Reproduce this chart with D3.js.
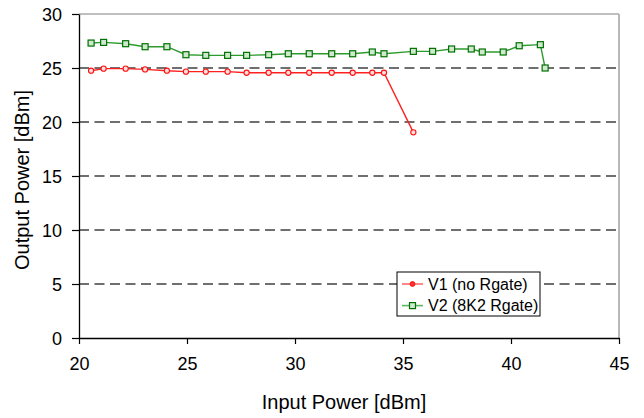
<!DOCTYPE html>
<html>
<head>
<meta charset="utf-8">
<script src="https://cdn.jsdelivr.net/npm/d3@7"></script>
<style>
  body { margin: 0; background: #fff; }
  svg { font-family: Arial, "Liberation Sans", sans-serif; }
</style>
</head>
<body>
<svg id="chart" width="644" height="418"></svg>
<script>
// V1 (no Rgate)
const v1In  = [20.56, 21.14, 22.16, 23.06, 24.07, 24.95, 25.87, 26.88, 27.76, 28.78, 29.69, 30.66, 31.70, 32.67, 33.58, 34.12, 35.48];
const v1Out = [24.75, 24.94, 24.94, 24.87, 24.75, 24.66, 24.66, 24.66, 24.56, 24.56, 24.56, 24.56, 24.56, 24.56, 24.56, 24.56, 19.04];

// V2 (8K2 Rgate)
const v2In  = [20.56, 21.14, 22.16, 23.06, 24.07, 24.95, 25.87, 26.88, 27.76, 28.78, 29.69, 30.66, 31.70,
               32.67, 33.58, 34.12, 35.48, 36.37, 37.25, 38.16, 38.67, 39.64, 40.38, 41.36, 41.58];
const v2Out = [27.31, 27.37, 27.25, 26.97, 26.97, 26.23, 26.17, 26.17, 26.17, 26.23, 26.32, 26.32, 26.32,
               26.32, 26.48, 26.32, 26.54, 26.54, 26.76, 26.76, 26.48, 26.48, 27.06, 27.16, 25.00];

const xTicks = [20, 25, 30, 35, 40, 45];
const yTicks = [0, 5, 10, 15, 20, 25, 30];
const legendLabels = ["V1 (no Rgate)", "V2 (8K2 Rgate)"];

const svg = d3.select("#chart");
const margin = { top: 14, right: 25, bottom: 80, left: 79 };
const width = 644 - margin.left - margin.right;
const height = 418 - margin.top - margin.bottom;

const g = svg.append("g").attr("transform", `translate(${margin.left},${margin.top})`);

const x = d3.scaleLinear().domain([20, 45]).range([0, width]);
const y = d3.scaleLinear().domain([0, 30]).range([height, 0]);

// dashed grid lines
g.selectAll(".grid")
  .data(yTicks.filter(t => t > 0 && t < 30))
  .enter().append("line")
  .attr("x1", 0).attr("x2", width)
  .attr("y1", d => y(d)).attr("y2", d => y(d))
  .attr("stroke", "#404040")
  .attr("stroke-width", 1.3)
  .attr("stroke-dasharray", "10,5.5");

// frame top / right
g.append("line").attr("x1", 0).attr("x2", width).attr("y1", 0).attr("y2", 0)
  .attr("stroke", "#808080").attr("stroke-width", 1.2);
g.append("line").attr("x1", width).attr("x2", width).attr("y1", 0).attr("y2", height)
  .attr("stroke", "#b8b8b8").attr("stroke-width", 2);

// axes
const xAxis = g.append("g")
  .attr("transform", `translate(0,${height})`)
  .call(d3.axisBottom(x).tickValues(xTicks).tickSize(6).tickPadding(13).tickSizeOuter(0));
const yAxis = g.append("g")
  .call(d3.axisLeft(y).tickValues(yTicks).tickSize(7).tickPadding(10).tickSizeOuter(0));

[xAxis, yAxis].forEach(a => {
  a.select(".domain").attr("stroke", "#000").attr("stroke-width", 1.3);
  a.selectAll(".tick line").attr("stroke", "#000").attr("stroke-width", 1.2);
  a.selectAll(".tick text").attr("fill", "#000").style("font-size", "18px")
    .style("font-family", "Arial, 'Liberation Sans', sans-serif");
});
yAxis.selectAll(".tick text").attr("dy", "0.35em");

// lines
const line = d3.line().x(d => x(d[0])).y(d => y(d[1]));
const v1 = v1In.map((d, i) => [d, v1Out[i]]);
const v2 = v2In.map((d, i) => [d, v2Out[i]]);

g.append("path").datum(v2)
  .attr("fill", "none").attr("stroke", "#2e9a2e").attr("stroke-width", 1.4)
  .attr("d", line);
g.append("path").datum(v1)
  .attr("fill", "none").attr("stroke", "#ff2020").attr("stroke-width", 1.4)
  .attr("d", line);

g.selectAll(".sq").data(v2).enter().append("rect")
  .attr("x", d => x(d[0]) - 3).attr("y", d => y(d[1]) - 3)
  .attr("width", 6).attr("height", 6)
  .attr("fill", "#cfe9cf").attr("stroke", "#007000").attr("stroke-width", 1.2);
g.selectAll(".ci").data(v1).enter().append("circle")
  .attr("cx", d => x(d[0])).attr("cy", d => y(d[1])).attr("r", 2.6)
  .attr("fill", "#ffdede").attr("stroke", "#ff1010").attr("stroke-width", 1.1);

// axis titles
svg.append("text")
  .attr("x", margin.left + width / 2 - 5).attr("y", 409)
  .attr("text-anchor", "middle").style("font-size", "20px")
  .text("Input Power [dBm]");
svg.append("text")
  .attr("transform", `translate(29,${margin.top + height / 2 + 4}) rotate(-90)`)
  .attr("text-anchor", "middle").style("font-size", "20px")
  .text("Output Power [dBm]");

// legend
const lg = svg.append("g").attr("transform", "translate(397,272)");
lg.append("rect").attr("width", 143).attr("height", 44)
  .attr("fill", "#fff").attr("stroke", "#000").attr("stroke-width", 1);
legendLabels.forEach((lab, i) => {
  const cy = 12 + i * 21.6;
  const col = i === 0 ? "#ff6a6a" : "#5cb85c";
  lg.append("line").attr("x1", 5).attr("x2", 26).attr("y1", cy).attr("y2", cy)
    .attr("stroke", col).attr("stroke-width", 1.6);
  if (i === 0) {
    lg.append("circle").attr("cx", 15.5).attr("cy", cy).attr("r", 2.4)
      .attr("fill", "#ff3030").attr("stroke", "#ff1010").attr("stroke-width", 1);
  } else {
    lg.append("rect").attr("x", 12.5).attr("y", cy - 3).attr("width", 6).attr("height", 6)
      .attr("fill", "#cfe9cf").attr("stroke", "#007000").attr("stroke-width", 1.2);
  }
  lg.append("text").attr("x", 31).attr("y", cy).attr("dy", "0.36em")
    .style("font-size", "16px").text(lab);
});
</script>
</body>
</html>
